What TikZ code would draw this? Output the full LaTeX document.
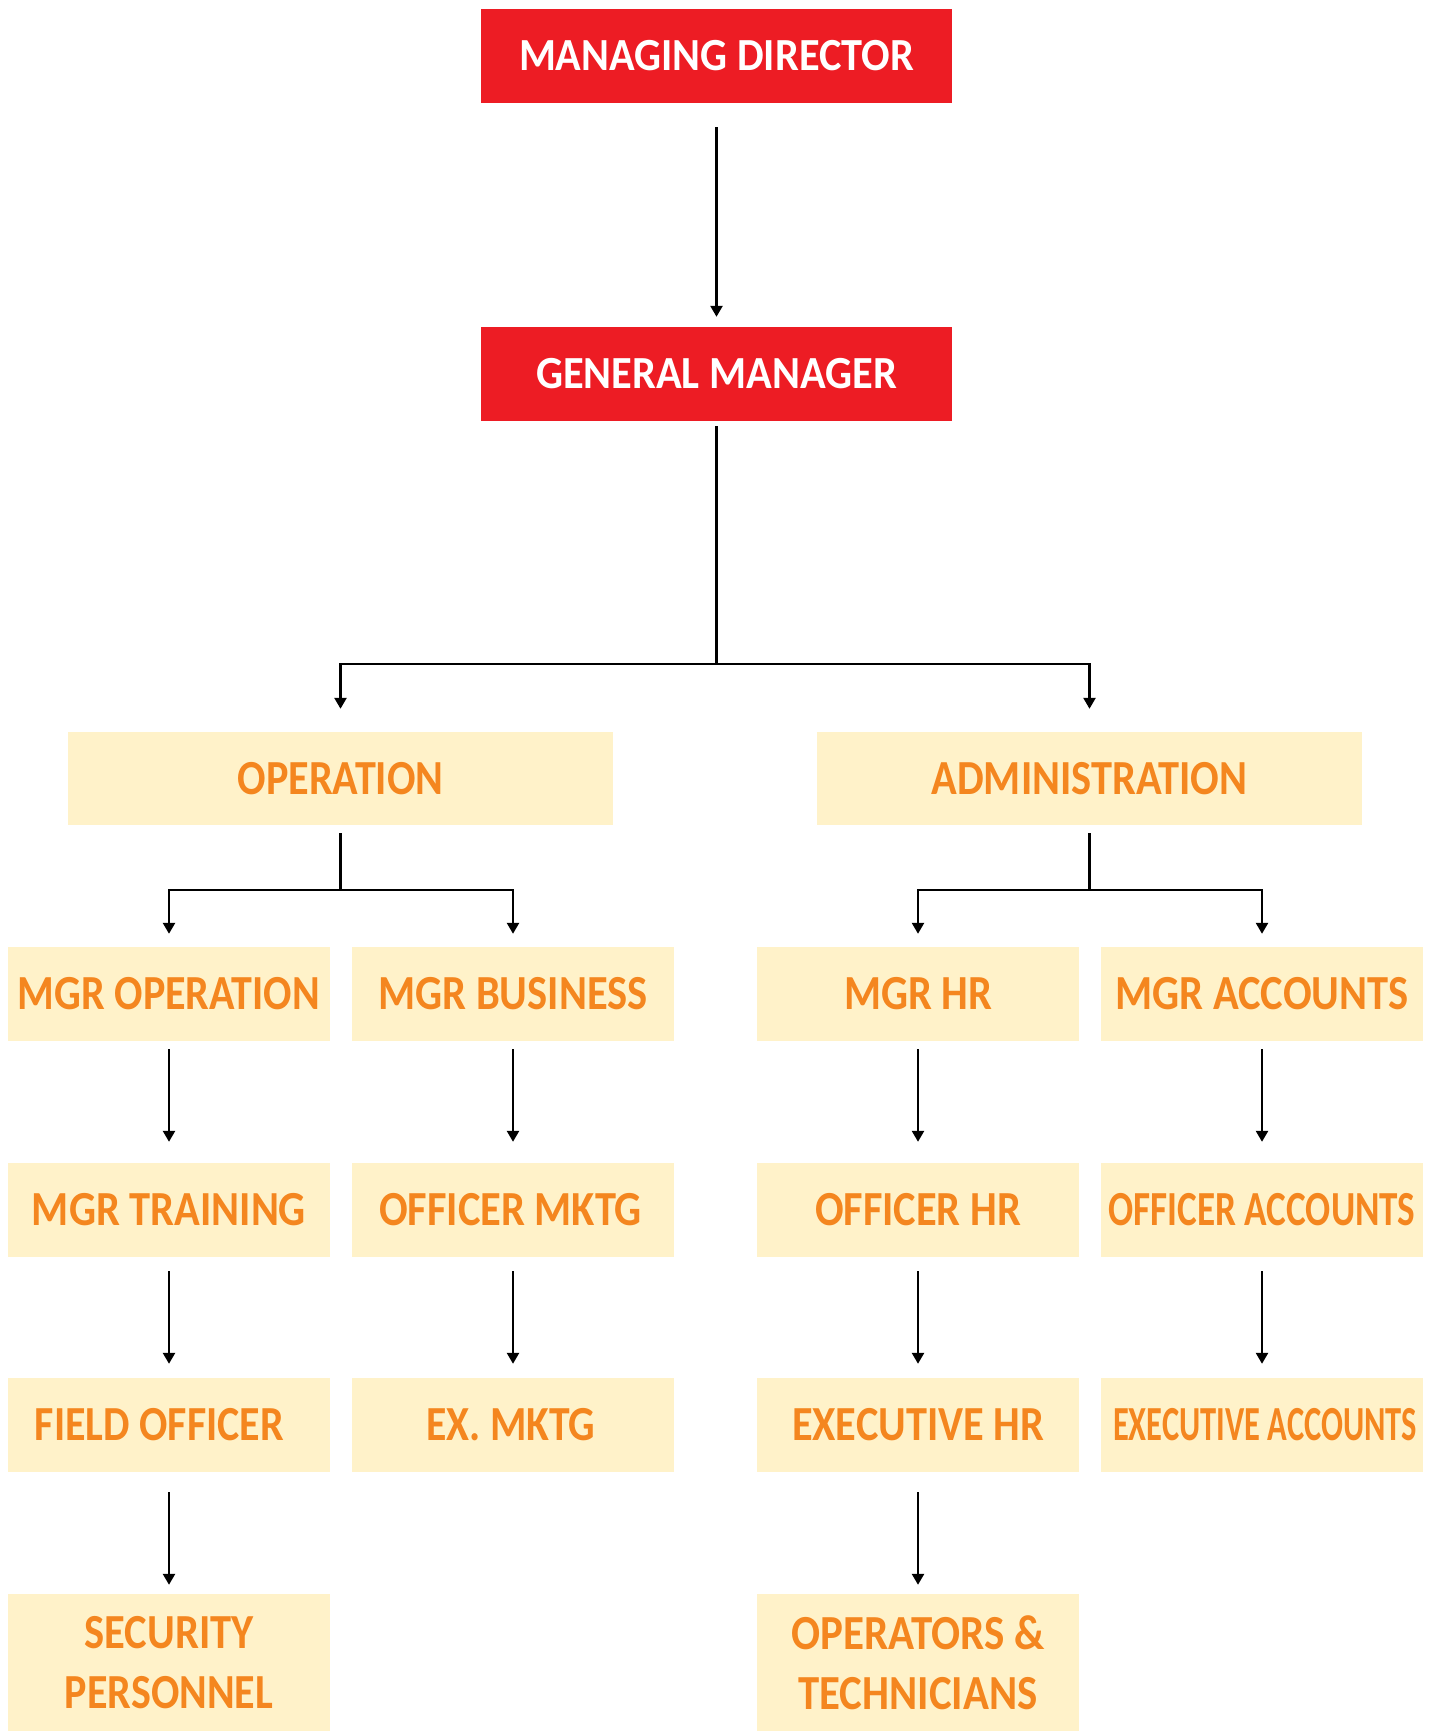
\documentclass[tikz,border=0pt]{standalone}
\usepackage{fontspec}
\setmainfont{Carlito}
\usetikzlibrary{arrows.meta}
\definecolor{hdred}{HTML}{ED1C24}
\definecolor{boxfill}{HTML}{FFF2C9}
\definecolor{txtor}{HTML}{F4861F}
\newcommand{\fitw}[2]{\resizebox{#1}{\height}{#2}}
\begin{document}
\begin{tikzpicture}[x=1pt,y=-1pt,
  redbox/.style={fill=hdred, inner sep=0pt, minimum width=471pt, minimum height=94pt,
    text=white, font=\bfseries\fontsize{46}{55}\selectfont},
  deptbox/.style={fill=boxfill, inner sep=0pt, minimum width=545pt, minimum height=93pt,
    text=txtor, font=\bfseries\fontsize{49}{60}\selectfont},
  rolebox/.style={fill=boxfill, inner sep=0pt, minimum width=322pt, minimum height=94pt,
    text=txtor, font=\bfseries\fontsize{49}{60}\selectfont, align=center},
  tallbox/.style={rolebox, minimum height=137pt},
  ln/.style={line width=2.5pt, black},
  arr/.style={ln, -{Triangle[length=11pt,width=12pt]}}]
\fill[white] (0,0) rectangle (1431,1731);
\useasboundingbox (0,0) rectangle (1431,1731);

\node[redbox] (md) at (716.5,56) {\fitw{395pt}{MANAGING DIRECTOR}};
\node[redbox] (gm) at (716.5,374) {\fitw{361pt}{GENERAL MANAGER}};

\node[deptbox] (op) at (340.5,778.5) {\fitw{206pt}{OPERATION}};
\node[deptbox] (ad) at (1089.5,778.5) {\fitw{316pt}{ADMINISTRATION}};

\node[rolebox] (mo) at (169,994) {\fitw{302pt}{MGR OPERATION}};
\node[rolebox] (mb) at (513,994) {\fitw{269pt}{MGR BUSINESS}};
\node[rolebox] (mh) at (918,994) {\fitw{148pt}{MGR HR}};
\node[rolebox] (ma) at (1262,994) {\fitw{293pt}{MGR ACCOUNTS}};

\node[rolebox] (mt) at (169,1210) {\fitw{274pt}{MGR TRAINING}};
\node[rolebox] (om) at (513,1210) {\fitw{263pt}{OFFICER MKTG}\hspace{5pt}};
\node[rolebox] (oh) at (918,1210) {\fitw{206pt}{OFFICER HR}};
\node[rolebox] (oa) at (1262,1210) {\fitw{307pt}{OFFICER ACCOUNTS}};

\node[rolebox] (fo) at (169,1425) {\fitw{249pt}{FIELD OFFICER}\hspace{19pt}};
\node[rolebox] (em) at (513,1425) {\fitw{169pt}{EX. MKTG}\hspace{4pt}};
\node[rolebox] (eh) at (918,1425) {\fitw{252pt}{EXECUTIVE HR}};
\node[rolebox] (ea) at (1262,1425) {\hspace{6pt}\fitw{304pt}{EXECUTIVE ACCOUNTS}};

\node[tallbox] (sp) at (169,1662.5) {\fitw{169pt}{SECURITY}\\\fitw{208pt}{PERSONNEL}};
\node[tallbox] (ot) at (918,1662.5) {\fitw{253pt}{OPERATORS \&}\\\fitw{239pt}{TECHNICIANS}};

% connectors
\draw[arr, shorten <=24pt, shorten >=10pt] (md) -- (gm);

\coordinate (gmj) at (716.5,664);
\draw[ln, shorten <=5pt] (gm) -- (gmj);
\draw[arr, shorten >=23pt] (gmj) -| (op);
\draw[arr, shorten >=23pt] (gmj) -| (ad);

\coordinate (opj) at (340.5,890);
\draw[ln, shorten <=8pt] (op) -- (opj);
\draw[arr, shorten >=13pt] (opj) -| (mo);
\draw[arr, shorten >=13pt] (opj) -| (mb);

\coordinate (adj) at (1089.5,890);
\draw[ln, shorten <=8pt] (ad) -- (adj);
\draw[arr, shorten >=13pt] (adj) -| (mh);
\draw[arr, shorten >=13pt] (adj) -| (ma);

\foreach \a/\b in {mo/mt, mb/om, mh/oh, ma/oa}
  \draw[arr, shorten <=8pt, shorten >=21pt] (\a) -- (\b);
\foreach \a/\b in {mt/fo, om/em, oh/eh, oa/ea}
  \draw[arr, shorten <=14pt, shorten >=14pt] (\a) -- (\b);
\foreach \a/\b in {fo/sp, eh/ot}
  \draw[arr, shorten <=20pt, shorten >=9pt] (\a) -- (\b);
\end{tikzpicture}
\end{document}
